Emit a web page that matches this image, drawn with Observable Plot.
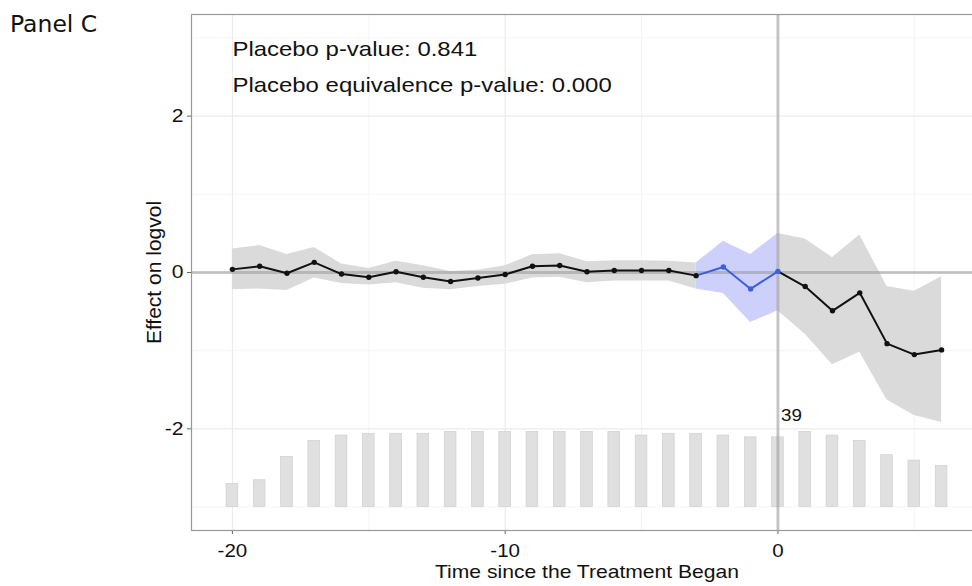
<!DOCTYPE html>
<html>
<head>
<meta charset="utf-8">
<script src="https://cdn.jsdelivr.net/npm/d3@7"></script>
<script src="https://cdn.jsdelivr.net/npm/@observablehq/plot@0.6"></script>
<style>
  html, body { margin: 0; padding: 0; overflow: hidden; background: #fff; }
  #wrap { position: relative; width: 972px; height: 586px; overflow: hidden; }
  #chart { position: absolute; left: 0; top: 0; }
  #panel { position: absolute; left: 10px; top: 13px; font-family: "DejaVu Sans", sans-serif;
           font-size: 23.5px; line-height: 1; color: #111; white-space: nowrap; }
</style>
</head>
<body>
<div id="wrap">
  <div id="chart"></div>
  <div id="panel">Panel C</div>
</div>
<script>
// Event-time estimates of the effect on logvol
const time   = [-20, -19, -18, -17, -16, -15, -14, -13, -12, -11, -10, -9, -8, -7, -6, -5, -4, -3, -2, -1, 0, 1, 2, 3, 4, 5, 6];
const est    = [0.04, 0.08, -0.01, 0.13, -0.02, -0.06, 0.01, -0.06, -0.115, -0.07, -0.025, 0.08, 0.09, 0.01, 0.025, 0.025, 0.025, -0.04, 0.07, -0.21, 0.015, -0.18, -0.49, -0.26, -0.91, -1.05, -0.99];
const ciLow  = [-0.22, -0.21, -0.23, -0.07, -0.14, -0.16, -0.13, -0.20, -0.22, -0.18, -0.15, -0.07, -0.06, -0.13, -0.11, -0.11, -0.11, -0.21, -0.27, -0.64, -0.49, -0.79, -1.18, -1.02, -1.63, -1.83, -1.92];
const ciHigh = [0.30, 0.345, 0.23, 0.32, 0.11, 0.05, 0.145, 0.085, 0.013, 0.03, 0.085, 0.226, 0.24, 0.136, 0.15, 0.15, 0.145, 0.12, 0.40, 0.23, 0.50, 0.43, 0.19, 0.48, -0.18, -0.24, -0.055];
// Number of treated units observed at each event time
const counts = [13, 15, 28, 37, 40, 41, 41, 41, 42, 42, 42, 42, 42, 42, 42, 40, 41, 41, 40, 39, 39, 42, 40, 37, 29, 26, 23];

// Placebo window and test results
const placeboStart = -2;
const placeboEnd = 0;
const pPlacebo = "0.841";
const pEquivalence = "0.000";

const xTicks = [-20, -10, 0];
const xMinor = [-15, -5, 5];
const yTicks = [-2, 0, 2];
const yMinor = [-3, -1, 1, 3];

// Count bars sit at the bottom of the panel
const barBase = -3;
const barSpan = 0.96;
const maxCount = d3.max(counts);

const rows = time.map((t, i) => ({
  t, est: est[i], lo: ciLow[i], hi: ciHigh[i], n: counts[i],
  bar: barBase + counts[i] / maxCount * barSpan
}));
const pre = rows.filter(d => d.t <= placeboStart - 1);
const placebo = rows.filter(d => d.t >= placeboStart - 1 && d.t <= placeboEnd);
const placeboPts = rows.filter(d => d.t >= placeboStart && d.t <= placeboEnd);
const post = rows.filter(d => d.t >= placeboEnd);
const countAtZero = rows.find(d => d.t === 0).n;

const grey = "#dadada";
const blueFill = "#cdd0fa";
const blue = "#3b5fe0";
const fmt = d => String(d);

const chart = Plot.plot({
  width: 1000,
  height: 586,
  marginLeft: 191,
  marginRight: 18,
  marginTop: 14,
  marginBottom: 56,
  style: { fontFamily: "'Liberation Sans', Arial, sans-serif", maxWidth: "none", background: "#fff", color: "#111" },
  x: { domain: [-21.5, 7.5], label: null },
  y: { domain: [-3.3, 3.3], label: null },
  marks: [
    // grid
    Plot.ruleX(xMinor, { stroke: "#f3f3f3", strokeWidth: 0.8 }),
    Plot.ruleY(yMinor, { stroke: "#f3f3f3", strokeWidth: 0.8 }),
    Plot.ruleX(xTicks, { stroke: "#ebebeb", strokeWidth: 1.1 }),
    Plot.ruleY(yTicks, { stroke: "#ebebeb", strokeWidth: 1.1 }),
    // count bars
    Plot.rectY(rows, {
      x1: d => d.t - 0.5, x2: d => d.t + 0.5, y1: barBase, y2: "bar",
      insetLeft: 7.8, insetRight: 7.8, fill: "#e0e0e0", stroke: "#cfcfcf", strokeWidth: 0.7
    }),
    // confidence bands
    Plot.areaY(pre, { x: "t", y1: "lo", y2: "hi", fill: grey }),
    Plot.areaY(placebo, { x: "t", y1: "lo", y2: "hi", fill: blueFill }),
    Plot.areaY(post, { x: "t", y1: "lo", y2: "hi", fill: grey }),
    // reference lines
    Plot.ruleY([0], { stroke: "#8a8a8a", strokeOpacity: 0.45, strokeWidth: 3 }),
    Plot.ruleX([0], { stroke: "#8a8a8a", strokeOpacity: 0.45, strokeWidth: 3 }),
    // estimates
    Plot.line(pre, { x: "t", y: "est", stroke: "#111", strokeWidth: 2 }),
    Plot.line(post, { x: "t", y: "est", stroke: "#111", strokeWidth: 2 }),
    Plot.line(placebo, { x: "t", y: "est", stroke: blue, strokeWidth: 2 }),
    Plot.dot(pre, { x: "t", y: "est", r: 2.7, fill: "#111" }),
    Plot.dot(post.filter(d => d.t > placeboEnd), { x: "t", y: "est", r: 2.7, fill: "#111" }),
    Plot.dot(placeboPts, { x: "t", y: "est", r: 2.7, fill: blue }),
    // annotations
    Plot.text([`Placebo p-value: ${pPlacebo}`], {
      x: -20, y: 2.767, textAnchor: "start", lineAnchor: "bottom", fontSize: 21, fill: "#111"
    }),
    Plot.text([`Placebo equivalence p-value: ${pEquivalence}`], {
      x: -20, y: 2.306, textAnchor: "start", lineAnchor: "bottom", fontSize: 21, fill: "#111"
    }),
    Plot.text([String(countAtZero)], {
      x: 0, y: -1.905, dx: 3, textAnchor: "start", lineAnchor: "bottom", fontSize: 16.5, fill: "#111"
    }),
    // axes
    Plot.axisX({ ticks: xTicks, tickFormat: fmt, tickSize: 4, tickPadding: 10, fontSize: 18, stroke: "#666", color: "#111", label: null }),
    Plot.axisY({ ticks: yTicks, tickFormat: fmt, tickSize: 4, tickPadding: 4, fontSize: 18.5, stroke: "#666", color: "#111", label: null }),
    Plot.text(["Time since the Treatment Began"], {
      frameAnchor: "bottom", dy: 47, lineAnchor: "bottom", fontSize: 18.5, fill: "#111"
    }),
    Plot.text(["Effect on logvol"], {
      frameAnchor: "left", rotate: -90, dx: -31, textAnchor: "middle", lineAnchor: "bottom", fontSize: 21, fill: "#111"
    }),
    Plot.frame({ stroke: "#999", strokeWidth: 1.2 })
  ]
});

document.getElementById("chart").appendChild(chart);

// Widen horizontal labels slightly to match the chart's wide lettering
chart.querySelectorAll("text").forEach(t => {
  if ((t.getAttribute("transform") || "").includes("rotate")) return;
  const w = t.getComputedTextLength();
  if (w > 0) {
    t.setAttribute("textLength", (w * 1.14).toFixed(2));
    t.setAttribute("lengthAdjust", "spacingAndGlyphs");
  }
});
</script>
</body>
</html>
